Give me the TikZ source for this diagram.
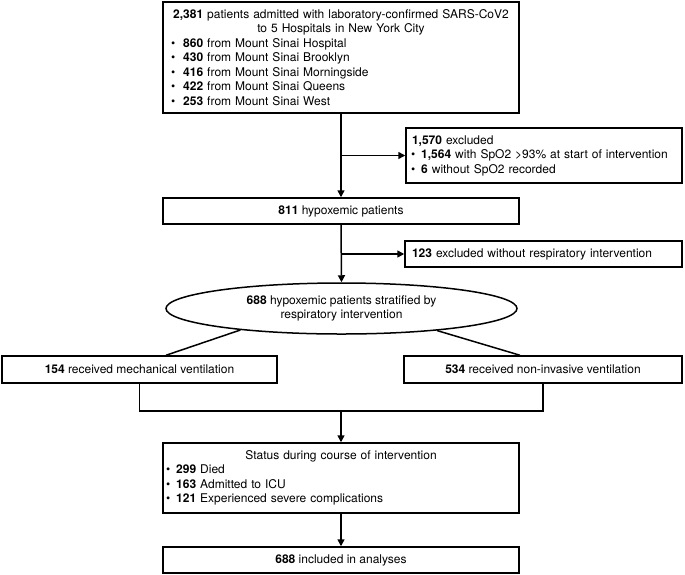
\documentclass[tikz,border=0pt]{standalone}
\usepackage{fontspec}
\setmainfont{TeX Gyre Heros}
\usetikzlibrary{shapes.geometric,arrows.meta,calc}
\newcommand{\flbul}[3]{\makebox[\linewidth][l]{\hspace{#1}\textbullet\hspace{#2}#3}}
\newcommand{\flleft}[2]{\makebox[\linewidth][l]{\hspace{#1}#2}}
\begin{document}
\begin{tikzpicture}[x=1pt,y=-1pt,
  txt/.style={font=\fontsize{12}{14.5}\selectfont},
  box/.style={txt, draw, line width=1.5pt, rectangle, inner sep=0pt, align=center},
  arr/.style={line width=1.5pt, -{Triangle[length=7pt,width=7pt]}},
  ln/.style={line width=1.5pt}]
\useasboundingbox (0,0) rectangle (685,574);

\node[box, minimum width=356pt, minimum height=111pt, text width=356pt] (top) at (341,57.5)
 {\textbf{2,381} patients admitted with laboratory-confirmed SARS-CoV2\\
  to 5 Hospitals in New York City\\
  \flbul{8pt}{8pt}{\textbf{860} from Mount Sinai Hospital}\\
  \flbul{8pt}{8pt}{\textbf{430} from Mount Sinai Brooklyn}\\
  \flbul{8pt}{8pt}{\textbf{416} from Mount Sinai Morningside}\\
  \flbul{8pt}{8pt}{\textbf{422} from Mount Sinai Queens}\\
  \flbul{8pt}{8pt}{\textbf{253} from Mount Sinai West}};

\node[box, minimum width=276pt, minimum height=55pt, text width=276pt] (ex1) at (544,155.5)
 {\flleft{6pt}{\textbf{1,570} excluded}\\
  \flbul{5pt}{6pt}{\textbf{1,564} with SpO2 >93\% at start of intervention}\\
  \flbul{5pt}{6pt}{\textbf{6} without SpO2 recorded}};

\node[box, minimum width=356pt, minimum height=26pt] (b811) at (341,211)
 {\textbf{811} hypoxemic patients};

\node[box, minimum width=277pt, minimum height=26pt, text width=277pt] (ex2) at (543.5,254)
 {\flleft{7pt}{\textbf{123} excluded without respiratory intervention}};

\node[box, ellipse, minimum width=351pt, minimum height=51pt] (ell) at (341.5,308.5)
 {\textbf{688} hypoxemic patients stratified by\\respiratory intervention};

\node[box, minimum width=275pt, minimum height=27pt] (b154) at (139.5,369.5)
 {\textbf{154} received mechanical ventilation};
\node[box, minimum width=278pt, minimum height=27pt] (b534) at (543,369.5)
 {\textbf{534} received non-invasive ventilation};

\node[box, minimum width=356pt, minimum height=70pt, text width=356pt] (status) at (341,478)
 {Status during course of intervention\\
  \flbul{3pt}{6pt}{\textbf{299} Died}\\
  \flbul{3pt}{6pt}{\textbf{163} Admitted to ICU}\\
  \flbul{3pt}{6pt}{\textbf{121} Experienced severe complications}};

\node[box, minimum width=356pt, minimum height=26pt] (final) at (341,560)
 {\textbf{688} included in analyses};

% connectors
\draw[arr] (top.south) -- (b811.north);
\coordinate (br1) at (top.south |- ex1.west);
\draw[arr] (br1) -- (ex1.west);
\draw[arr] (b811.south) -- (ell.north);
\coordinate (br2) at (b811.south |- ex2.west);
\draw[arr] (br2) -- (ex2.west);
\draw[ln] (ell.192) -- ($(b154.north)+(26.5,0)$);
\draw[ln] (ell.347) -- ($(b534.north)+(-23,0)$);
\coordinate (join) at (341,411);
\draw[ln] (b154.south) |- (join) -| (b534.south);
\draw[arr] (join) -- (status.north);
\draw[arr] (status.south) -- (final.north);
\end{tikzpicture}
\end{document}
